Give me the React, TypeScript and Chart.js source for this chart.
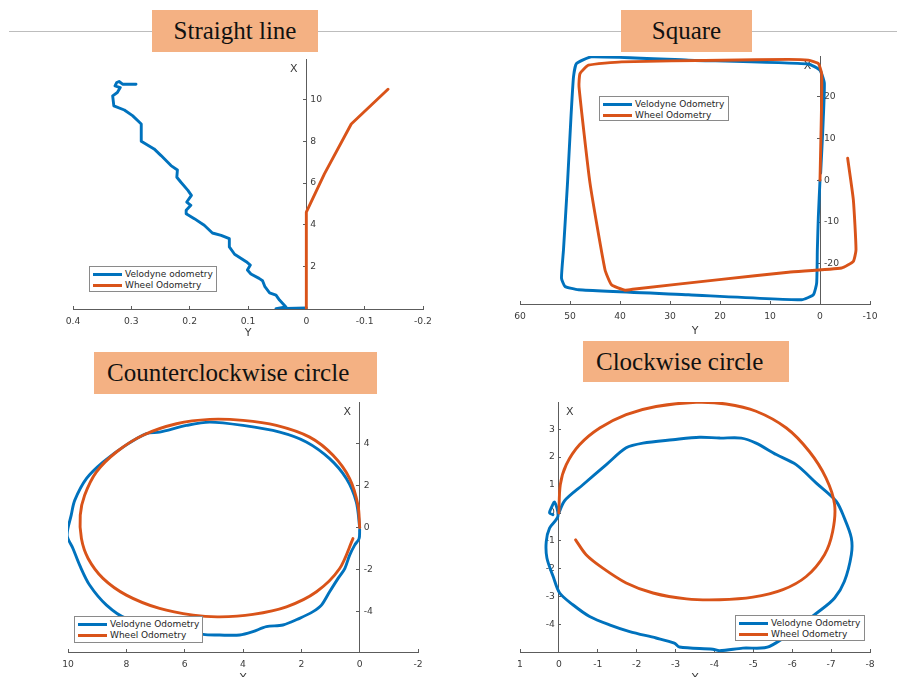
import React, { useEffect, useRef } from "react";
import { Chart, LinearScale, registerables } from "chart.js";

Chart.register(...registerables);

// Linear scale for an axis that crosses the plot (position: { x: 0 }):
// tick labels are placed on a chosen side of the axis line.
class CrossedLinearScale extends LinearScale {
  static id = "crossedLinear";
  _computeLabelItems(chartArea: any) {
    const items: any[] = super._computeLabelItems(chartArea);
    if (this.isHorizontal()) return items;
    const opts: any = this.options;
    const pos = opts.position;
    const key = Object.keys(pos)[0];
    const axisPx = (this as any).chart.scales[key].getPixelForValue(pos[key]);
    const side = opts.labelSide === "left" ? -1 : 1;
    const gap = opts.labelGap ?? 4;
    for (const item of items) {
      const o = item.options || item;
      o.translation = [axisPx + side * gap, o.translation[1]];
      o.textAlign = side < 0 ? "right" : "left";
    }
    return items;
  }
}
Chart.register(CrossedLinearScale);

// ---------- Straight line ----------
const straightVelodyneY = [0, 0.052, 0.035, 0.046, 0.052, 0.063, 0.071, 0.075, 0.081, 0.095, 0.101, 0.096, 0.103, 0.123, 0.132, 0.132, 0.146, 0.161, 0.175, 0.192, 0.206, 0.206, 0.198, 0.205, 0.197, 0.203, 0.215, 0.222, 0.221, 0.232, 0.249, 0.261, 0.283, 0.283, 0.298, 0.312, 0.33, 0.332, 0.324, 0.319, 0.328, 0.325, 0.321, 0.315, 0.302, 0.292];
const straightVelodyneX = [0, -0.03, 0.05, 0.38, 0.62, 0.73, 1.02, 1.31, 1.42, 1.63, 1.82, 2.06, 2.22, 2.58, 2.93, 3.33, 3.49, 3.6, 3.97, 4.29, 4.53, 4.69, 4.93, 5.09, 5.41, 5.65, 6.04, 6.28, 6.63, 6.84, 7.32, 7.64, 8.01, 8.84, 9.24, 9.51, 9.71, 10.19, 10.35, 10.59, 10.67, 10.83, 10.88, 10.75, 10.75, 10.75];
const straightWheelY = [0, 0, -0.031, -0.077, -0.14];
const straightWheelX = [0, 4.6, 6.44, 8.84, 10.51];
const straightYTicks = [-0.2, -0.1, 0, 0.1, 0.2, 0.3, 0.4];
const straightXTicks = [2, 4, 6, 8, 10];

// ---------- Square ----------
const squareVelodyneY = [0, 0.33, 0.53, 0.67, 1.33, 3.67, 26.3, 48.3, 51, 51.7, 51.3, 50.5, 49.8, 49.3, 48.7, 45.7, 26.3, 2.33, 0, -0.87, -0.53, -0.13];
const squareVelodyneX = [0, -8.68, -16.6, -24.6, -27.4, -28.6, -27.4, -26.2, -25.4, -23.4, -16.6, -0.7, 15.2, 24.7, 27.9, 29.5, 28.7, 27.8, 26.3, 23.2, 11.2, 1.7];
const squareWheelY = [0, -0.13, -0.33, -0.33, 0.33, 2.33, 6.33, 19.7, 39.7, 46.3, 48, 48.2, 46, 43, 41.7, 39, 37, 19.7, 6.33, -4.33, -6.67, -7.2, -6.67, -5.53];
const squareWheelX = [0, 7.2, 19.2, 25.5, 27.9, 28.7, 28.9, 28.7, 28.3, 27.5, 25.5, 22.4, -0.7, -21.4, -25, -26.3, -26, -23.7, -22, -21, -19.4, -16.6, -4.7, 5.25];
const squareYTicks = [-10, 0, 10, 20, 30, 40, 50, 60];
const squareXTicks = [-20, -10, 0, 10, 20];

// ---------- Counterclockwise circle ----------
const ccwVelodyneY = [0, 0.114, 0.457, 1.03, 1.83, 2.74, 4.0, 5.14, 5.94, 6.86, 7.31, 8.0, 8.8, 9.37, 9.77, 9.89, 10.03, 9.83, 9.6, 9.26, 8.68, 8.0, 5.37, 4.8, 4.11, 3.66, 3.2, 2.63, 2.06, 1.6, 1.31, 1.03, 0.74, 0.51, 0.343, 0.171, 0.02, 0];
const ccwVelodyneX = [0, 1.22, 2.34, 3.29, 4.09, 4.56, 4.88, 5.04, 4.88, 4.56, 4.49, 3.95, 3.13, 2.34, 1.3, 0.59, -0.37, -1.0, -1.8, -2.75, -3.71, -4.34, -5.11, -5.14, -5.14, -4.98, -4.74, -4.66, -4.34, -4.02, -3.71, -3.07, -2.43, -1.96, -1.32, -0.84, -0.53, -0.1];
const ccwWheelY = [0, 0.057, 0.343, 0.914, 1.714, 2.857, 4.0, 5.14, 6.28, 7.43, 8.34, 9.03, 9.43, 9.58, 9.54, 9.31, 8.8, 8.0, 6.86, 5.71, 4.8, 3.66, 2.51, 1.48, 0.686, 0.23];
const ccwWheelX = [0, 1.06, 2.34, 3.45, 4.32, 4.88, 5.12, 5.17, 4.96, 4.41, 3.61, 2.65, 1.54, 0.59, -0.53, -1.48, -2.43, -3.23, -3.87, -4.19, -4.27, -4.15, -3.79, -3.07, -1.96, -0.53];
const ccwYTicks = [-2, 0, 2, 4, 6, 8, 10];
const ccwXTicks = [-4, -2, 0, 2, 4];

// ---------- Clockwise circle ----------
const cwVelodyneY = [0, -0.147, -0.617, -1.22, -1.73, -2.16, -2.93, -3.62, -4.13, -4.69, -5.07, -5.59, -6.1, -6.62, -7.13, -7.34, -7.52, -7.52, -7.34, -7.09, -6.75, -5.42, -4.73, -4.13, -3.96, -3.1, -2.97, -2.5, -1.82, -1.3, -0.79, -0.36, -0.02, 0.14, 0.308, 0.325, 0.24, 0.026, 0.11, 0.196, 0.24, 0.154];
const cwVelodyneX = [0, 0.44, 1.01, 1.73, 2.33, 2.5, 2.62, 2.71, 2.68, 2.68, 2.5, 2.09, 1.73, 1.07, 0.42, -0.18, -0.89, -1.49, -2.45, -3.04, -3.45, -4.77, -4.83, -4.92, -4.87, -4.79, -4.65, -4.47, -4.24, -4.0, -3.7, -3.28, -2.86, -2.3, -1.61, -1.02, -0.54, -0.12, 0.39, 0.18, 0, -0.06];
const cwWheelY = [0, -0.036, -0.19, -0.53, -1.05, -1.73, -2.5, -3.53, -4.3, -5.07, -5.85, -6.44, -6.87, -7.09, -7.04, -6.83, -6.36, -5.76, -4.99, -4.13, -3.28, -2.42, -1.73, -1.13, -0.7, -0.43];
const cwWheelX = [0, 1.01, 1.73, 2.44, 3.04, 3.52, 3.81, 3.96, 3.9, 3.64, 3.04, 2.2, 1.25, 0.3, -0.66, -1.49, -2.27, -2.74, -3.01, -3.1, -3.07, -2.86, -2.5, -1.97, -1.49, -0.96];
const cwYTicks = [-8, -7, -6, -5, -4, -3, -2, -1, 0, 1];
const cwXTicks = [-4, -3, -2, -1, 0, 1, 2, 3];

const BLUE = "#0072BD";
const ORANGE = "#D95319";
const AXIS_COLOR = "#5c5c5c";
const TEXT_COLOR = "#3a3a3a";
const SANS = '"DejaVu Sans", sans-serif';
const SERIF = '"Liberation Serif", serif';

type Series = { label: string; color: string; ys: number[]; xs: number[]; order: number };
type Panel = {
  title: string;
  titleBox: { left: number; top: number; width: number; height: number; padLeft?: number };
  area: { left: number; top: number; right: number; bottom: number };
  axisH: number;
  yRange: [number, number];
  xRange: [number, number];
  yTicks: number[];
  xTicks: number[];
  labelSide: "left" | "right";
  tension: number;
  legendBox: { left: number; top: number; width: number; height: number };
  series: Series[];
};

const panels: Panel[] = [
  {
    title: "Straight line",
    titleBox: { left: 152, top: 10, width: 166, height: 42 },
    area: { left: 73, top: 59, right: 423, bottom: 309 },
    axisH: 31,
    yRange: [-0.2, 0.4],
    xRange: [-0.05, 11.96],
    yTicks: straightYTicks,
    xTicks: straightXTicks,
    labelSide: "right",
    tension: 0,
    legendBox: { left: 89, top: 266, width: 128, height: 26 },
    series: [
      { label: "Velodyne odometry", color: BLUE, ys: straightVelodyneY, xs: straightVelodyneX, order: 1 },
      { label: "Wheel Odometry", color: ORANGE, ys: straightWheelY, xs: straightWheelX, order: 0 },
    ],
  },
  {
    title: "Square",
    titleBox: { left: 621, top: 10, width: 131, height: 42 },
    area: { left: 520, top: 56, right: 870, bottom: 304 },
    axisH: 34,
    yRange: [-10, 60],
    xRange: [-29.6, 29.7],
    yTicks: squareYTicks,
    xTicks: squareXTicks,
    labelSide: "right",
    tension: 0.15,
    legendBox: { left: 599, top: 96, width: 130, height: 25 },
    series: [
      { label: "Velodyne Odometry", color: BLUE, ys: squareVelodyneY, xs: squareVelodyneX, order: 1 },
      { label: "Wheel Odometry", color: ORANGE, ys: squareWheelY, xs: squareWheelX, order: 0 },
    ],
  },
  {
    title: "Counterclockwise circle",
    titleBox: { left: 94, top: 352, width: 283, height: 42, padLeft: 13 },
    area: { left: 68, top: 402, right: 418, bottom: 652 },
    axisH: 33,
    yRange: [-2, 10],
    xRange: [-5.95, 6.0],
    yTicks: ccwYTicks,
    xTicks: ccwXTicks,
    labelSide: "right",
    tension: 0.3,
    legendBox: { left: 74, top: 616, width: 129, height: 27 },
    series: [
      { label: "Velodyne Odometry", color: BLUE, ys: ccwVelodyneY, xs: ccwVelodyneX, order: 1 },
      { label: "Wheel Odometry", color: ORANGE, ys: ccwWheelY, xs: ccwWheelX, order: 0 },
    ],
  },
  {
    title: "Clockwise circle",
    titleBox: { left: 583, top: 341, width: 206, height: 41, padLeft: 13 },
    area: { left: 520, top: 402, right: 870, bottom: 652 },
    axisH: 33,
    yRange: [-8, 1],
    xRange: [-4.97, 3.97],
    yTicks: cwYTicks,
    xTicks: cwXTicks,
    labelSide: "left",
    tension: 0.3,
    legendBox: { left: 735, top: 615, width: 130, height: 26 },
    series: [
      { label: "Velodyne Odometry", color: BLUE, ys: cwVelodyneY, xs: cwVelodyneX, order: 1 },
      { label: "Wheel Odometry", color: ORANGE, ys: cwWheelY, xs: cwWheelX, order: 0 },
    ],
  },
];

// Axis name "X" written next to the top of the crossing axis.
const axisNamePlugin = {
  id: "axisName",
  beforeDatasetsDraw(chart: any, _args: any, opts: any) {
    const { ctx, chartArea, scales } = chart;
    const px = scales.x.getPixelForValue(0) + opts.dx;
    ctx.save();
    ctx.font = `11px ${SANS}`;
    ctx.fillStyle = TEXT_COLOR;
    ctx.textAlign = "center";
    ctx.textBaseline = "middle";
    ctx.fillText(opts.text, px, chartArea.top + 10);
    ctx.restore();
  },
};

const PAD_L = 24;
const PAD_R = 24;
const PAD_T = 12;

function PanelChart({ panel }: { panel: Panel }) {
  const ref = useRef<HTMLCanvasElement>(null);
  const { area } = panel;
  const w = area.right - area.left + PAD_L + PAD_R;
  const h = PAD_T + (area.bottom - area.top) + panel.axisH;

  useEffect(() => {
    const tickFont = { family: SANS, size: 9.2 };
    const chart = new Chart(ref.current as HTMLCanvasElement, {
      type: "scatter",
      data: {
        datasets: panel.series.map((s) => ({
          label: s.label,
          data: s.ys.map((y, i) => ({ x: y, y: s.xs[i] })),
          showLine: true,
          borderColor: s.color,
          backgroundColor: s.color,
          borderWidth: 2.9,
          borderJoinStyle: "round",
          borderCapStyle: "round",
          pointRadius: 0,
          tension: panel.tension,
          order: s.order,
        })),
      },
      options: {
        animation: false,
        responsive: false,
        devicePixelRatio: 1,
        layout: { padding: { left: PAD_L, right: PAD_R, top: PAD_T, bottom: 0 } },
        plugins: {
          legend: { display: false },
          tooltip: { enabled: false },
          axisName: { text: "X", dx: panel.labelSide === "right" ? -12.5 : 11 },
        } as any,
        scales: {
          x: {
            type: "linear",
            position: "bottom",
            reverse: true,
            min: panel.yRange[0],
            max: panel.yRange[1],
            afterBuildTicks: (s: any) => {
              s.ticks = panel.yTicks.map((v) => ({ value: v }));
            },
            afterFit: (s: any) => {
              s.height = panel.axisH;
            },
            ticks: {
              autoSkip: false,
              maxRotation: 0,
              padding: 10,
              color: TEXT_COLOR,
              font: tickFont,
              callback: (v: any) => String(v),
            },
            grid: { display: true, drawOnChartArea: false, drawTicks: true, tickLength: -3, color: AXIS_COLOR },
            border: { display: true, color: AXIS_COLOR, width: 1 },
            title: { display: true, text: "Y", color: TEXT_COLOR, font: { family: SANS, size: 11 }, padding: 0 },
          },
          y: {
            type: "crossedLinear",
            position: { x: 0 },
            min: panel.xRange[0],
            max: panel.xRange[1],
            labelSide: panel.labelSide,
            labelGap: 4,
            afterBuildTicks: (s: any) => {
              s.ticks = panel.xTicks.map((v) => ({ value: v }));
            },
            ticks: {
              autoSkip: false,
              color: TEXT_COLOR,
              font: tickFont,
              callback: (v: any) => String(v),
            },
            grid: {
              display: true,
              drawOnChartArea: false,
              drawTicks: true,
              tickLength: panel.labelSide === "right" ? 3 : -3,
              color: AXIS_COLOR,
            },
            border: { display: true, color: AXIS_COLOR, width: 1 },
          } as any,
        },
      },
      plugins: [axisNamePlugin],
    } as any);
    return () => chart.destroy();
  }, [panel]);

  return (
    <canvas
      ref={ref}
      width={w}
      height={h}
      style={{ position: "absolute", left: area.left - PAD_L, top: area.top - PAD_T, width: w, height: h }}
    />
  );
}

function Legend({ panel }: { panel: Panel }) {
  const b = panel.legendBox;
  return (
    <div
      style={{
        position: "absolute",
        left: b.left,
        top: b.top,
        width: b.width,
        height: b.height,
        boxSizing: "border-box",
        border: "1px solid #8a8a8a",
        background: "#ffffff",
        fontFamily: SANS,
        fontSize: 9,
        color: "#262626",
      }}
    >
      {panel.series.map((s, i) => (
        <div
          key={s.label}
          style={{
            position: "absolute",
            left: 3,
            top: 1.5 + i * 11.4,
            height: 11,
            display: "flex",
            alignItems: "center",
            whiteSpace: "nowrap",
          }}
        >
          <span style={{ display: "inline-block", width: 29, height: 3, background: s.color, marginRight: 3 }} />
          <span>{s.label}</span>
        </div>
      ))}
    </div>
  );
}

function TitleBox({ panel }: { panel: Panel }) {
  const t = panel.titleBox;
  const centered = t.padLeft === undefined;
  return (
    <div
      style={{
        position: "absolute",
        left: t.left,
        top: t.top,
        width: t.width,
        height: t.height,
        boxSizing: "border-box",
        paddingLeft: centered ? 0 : t.padLeft,
        background: "#F4B183",
        display: "flex",
        alignItems: "center",
        justifyContent: centered ? "center" : "flex-start",
        fontFamily: SERIF,
        fontSize: 25,
        color: "#111111",
        whiteSpace: "nowrap",
      }}
    >
      {panel.title}
    </div>
  );
}

export default function App() {
  return (
    <div
      style={{
        position: "fixed",
        left: 0,
        top: 0,
        width: 897,
        height: 677,
        overflow: "hidden",
        background: "#ffffff",
      }}
    >
      <div style={{ position: "absolute", left: 9, top: 31, width: 888, height: 1, background: "#bdbdbd" }} />
      {panels.map((p) => (
        <PanelChart key={p.title} panel={p} />
      ))}
      {panels.map((p) => (
        <Legend key={p.title + "-legend"} panel={p} />
      ))}
      {panels.map((p) => (
        <TitleBox key={p.title + "-title"} panel={p} />
      ))}
    </div>
  );
}
